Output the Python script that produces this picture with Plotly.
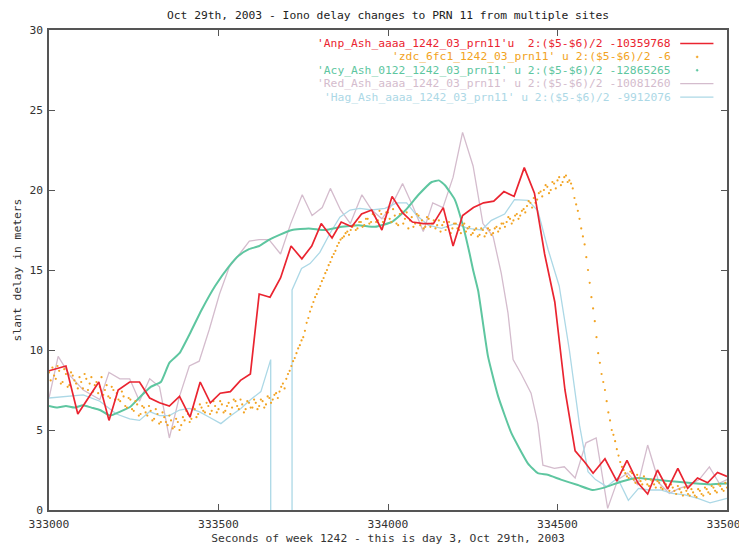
import plotly.graph_objects as go

# ---------------- data ----------------
anp_t = [333000, 333050, 333085, 333147, 333177, 333204, 333238, 333267, 333297, 333326,
         333355, 333385, 333416, 333446, 333476, 333505, 333535, 333565, 333594, 333620,
         333652, 333683, 333714, 333746, 333775, 333803, 333835, 333862, 333893, 333922,
         333952, 333982, 334012, 334042, 334072, 334104, 334134, 334163, 334192, 334220,
         334252, 334282, 334312, 334342, 334372, 334402, 334432, 334462, 334492, 334522,
         334552, 334580, 334605, 334640, 334675, 334705, 334737, 334766, 334795, 334825,
         334855, 334884, 334913, 334943, 334972, 335000]
anp_v = [8.7, 9.0, 6.0, 8.0, 5.6, 7.5, 8.0, 8.0, 7.0, 6.7,
         6.5, 7.1, 5.8, 8.0, 6.7, 7.3, 7.4, 8.1, 8.5, 13.5,
         13.3, 14.5, 16.5, 15.7, 16.5, 17.9, 17.0, 18.0, 17.7, 18.5,
         18.75, 17.5, 19.6, 18.6, 18.0, 17.9, 17.9, 18.9, 16.5, 18.4,
         18.9, 19.2, 19.3, 19.9, 19.6, 21.4, 19.8, 16.0, 13.0, 7.5,
         3.7, 3.0, 2.3, 3.2, 1.8, 3.1, 1.7, 1.0, 2.5, 1.3,
         2.6, 1.35, 2.0, 1.7, 2.35, 2.1]

# zdc samples read on a 10 s grid (t = ...0) and on the in-between grid (t = ...5)
zdc_t = list(range(333000, 335001, 10))
zdc_v = [8.6, 8.9, 8.2, 8.7, 8.0, 8.5, 7.8, 8.4, 7.9, 8.3,
         7.6, 8.2, 7.9, 7.4, 8.0, 7.7, 7.2, 7.8, 7.0, 7.5,
         7.3, 6.8, 7.1, 6.4, 6.9, 6.2, 6.6, 6.0, 6.4, 5.9,
         6.2, 5.7, 6.0, 5.5, 5.8, 5.3, 5.6, 5.2, 5.5, 5.3,
         5.6, 6.0, 5.7, 6.3, 6.0, 6.4, 6.1, 6.5, 6.2, 6.5,
         6.3, 6.6, 6.2, 6.7, 6.4, 6.8, 6.3, 6.6, 6.3, 6.7,
         6.4, 6.7, 6.5, 6.8, 6.6, 7.0, 6.9, 7.3, 7.4, 7.9,
         8.2, 8.7, 9.3, 9.8, 10.3, 10.8, 11.7, 12.4, 13.0, 13.5,
         14.0, 14.5, 15.0, 15.5, 16.0, 16.5, 16.9, 17.1, 17.4, 17.5,
         17.8, 17.6, 18.0, 17.8, 18.2, 18.0, 18.4, 18.1, 18.5, 18.2,
         18.6, 18.0, 18.4, 17.8, 18.7, 18.2, 17.6, 18.3, 17.9, 18.4,
         18.1, 17.7, 18.2, 17.9, 17.6, 18.1, 17.8, 17.5, 18.0, 17.6,
         17.9, 17.5, 17.8, 17.4, 17.7, 17.3, 17.6, 17.2, 17.5, 17.3,
         17.5, 17.3, 17.7, 17.6, 17.9, 18.0, 18.2, 18.1, 18.5, 18.4,
         18.8, 19.0, 19.2, 19.5, 19.4, 19.9, 20.0, 20.2, 20.0, 20.4,
         20.6, 20.3, 20.8, 20.5, 20.4, 19.5, 18.7, 17.6, 16.6, 15.0,
         13.3, 11.8, 9.8, 8.5, 7.5, 6.1, 5.0, 4.3, 3.4, 2.7,
         2.3, 2.0, 2.3, 1.7, 2.0, 1.6, 1.9, 1.5, 1.8, 1.4,
         1.7, 1.3, 1.6, 1.2, 1.4, 1.0, 1.3, 0.9, 1.2, 0.9,
         1.1, 0.8, 1.2, 0.9, 1.3, 1.0, 1.4, 1.1, 1.5, 1.2,
         1.4]
zdc_t2 = list(range(333005, 335000, 10))
zdc_v2 = [8.1, 8.4, 9.0, 7.9, 8.8, 7.7, 8.6, 8.1, 7.6, 8.0,
          8.5, 7.5, 8.3, 7.8, 7.3, 8.3, 7.5, 7.1, 7.7, 6.9,
          6.9, 7.4, 6.5, 7.0, 6.3, 6.8, 5.9, 6.5, 6.1, 6.5,
          5.6, 6.3, 5.4, 6.1, 5.5, 5.9, 5.1, 5.7, 5.0, 5.8,
          6.2, 5.5, 6.4, 5.8, 6.6, 6.2, 6.7, 6.0, 6.8, 6.1,
          6.8, 6.1, 6.5, 6.0, 6.9, 6.5, 6.9, 6.1, 6.8, 6.4,
          6.9, 6.3, 6.9, 6.4, 7.1, 6.7, 7.2, 7.0, 7.7, 7.6,
          8.5, 9.0, 9.5, 10.1, 10.6, 11.2, 12.0, 12.7, 13.3, 13.8,
          14.3, 14.8, 15.3, 15.8, 16.2, 16.7, 17.0, 17.3, 17.2, 17.7,
          17.5, 18.0, 17.7, 18.2, 17.9, 18.5, 18.0, 18.7, 18.0, 18.6,
          18.2, 18.8, 17.9, 18.5, 17.9, 18.6, 18.1, 17.7, 18.5, 17.8,
          17.6, 18.3, 17.7, 18.1, 17.8, 17.4, 18.0, 17.7, 17.3, 17.9,
          17.6, 17.3, 17.9, 17.6, 17.2, 17.5, 17.1, 17.6, 17.1, 17.6,
          17.2, 17.6, 17.4, 17.9, 17.7, 18.3, 17.9, 18.4, 18.2, 18.7,
          18.6, 19.3, 18.9, 19.2, 19.8, 19.6, 20.3, 19.8, 20.5, 20.1,
          20.8, 20.5, 20.9, 20.6, 20.1, 19.1, 18.2, 17.1, 15.8, 14.2,
          12.6, 10.8, 9.2, 8.0, 6.8, 5.6, 4.7, 3.8, 3.0, 2.5,
          2.1, 2.4, 1.9, 2.2, 1.8, 2.1, 1.6, 1.9, 1.6, 1.8,
          1.4, 1.7, 1.4, 1.6, 1.2, 1.5, 1.1, 1.4, 1.0, 1.3,
          0.9, 1.3, 1.0, 1.4, 1.1, 1.5, 1.2, 1.6, 1.3, 1.7]

acy_t = [333000, 333025, 333050, 333075, 333100, 333125, 333150, 333180, 333210, 333240,
         333270, 333300, 333330, 333355, 333385, 333415, 333450, 333490, 333530, 333560,
         333590, 333620, 333650, 333680, 333717, 333766, 333815, 333864, 333913, 333962,
         334011, 334050, 334090, 334129, 334150, 334168, 334197, 334222, 334241, 334251,
         334266, 334295, 334325, 334364, 334413, 334442, 334471, 334510, 334560, 334603,
         334638, 334687, 334736, 334785, 334853, 334902, 334951, 335000]
acy_v = [6.5, 6.4, 6.5, 6.4, 6.55, 6.4, 6.25, 5.9, 6.15, 6.45,
         7.1, 7.7, 8.0, 9.2, 9.8, 11.0, 12.5, 14.0, 15.2, 15.9,
         16.3, 16.5, 16.9, 17.2, 17.5, 17.6, 17.5, 17.7, 17.8, 17.7,
         18.0, 18.7, 19.7, 20.5, 20.6, 20.3, 19.4, 17.7, 16.0, 15.0,
         13.7, 9.6, 7.1, 4.8, 2.9, 2.3, 2.2, 1.9, 1.56, 1.25,
         1.4, 1.77, 2.0, 1.9, 1.77, 1.67, 1.6, 1.65]

red_t = [333000, 333027, 333062, 333101, 333150, 333177, 333209, 333238, 333267, 333297,
         333326, 333355, 333385, 333414, 333443, 333473, 333503, 333532, 333562, 333591,
         333620, 333649, 333683, 333713, 333747, 333776, 333806, 333830, 333860, 333889,
         333923, 333952, 333982, 334011, 334043, 334073, 334104, 334132, 334162, 334192,
         334220, 334251, 334280, 334310, 334334, 334354, 334369, 334393, 334422, 334442,
         334457, 334491, 334520, 334552, 334584, 334614, 334648, 334678, 334707, 334737,
         334766, 334800, 334830, 334859, 334889, 334918, 334948, 334977, 335000]
red_v = [7.0, 9.6, 8.4, 7.5, 6.9, 8.6, 8.2, 8.2, 6.8, 8.2,
         7.7, 4.5, 7.1, 9.0, 9.3, 11.3, 13.5, 15.2, 16.0, 16.8,
         16.9, 16.9, 16.0, 17.9, 19.7, 18.4, 18.9, 20.1, 18.75, 17.9,
         19.7, 18.75, 18.2, 19.06, 20.4, 19.0, 17.4, 19.2, 18.9, 20.8,
         23.6, 21.5, 17.9, 17.1, 14.8, 12.3, 9.4, 8.5, 7.3, 5.4,
         2.8, 2.6, 2.7, 2.0, 4.2, 4.5, 0.1, 1.9, 2.3, 1.56,
         4.06, 1.67, 1.04, 1.35, 1.56, 1.9, 2.7, 1.67, 1.9]

hag_t = [333000, 333052, 333101, 333150, 333199, 333238, 333267, 333297, 333326, 333355,
         333385, 333414, 333443, 333473, 333507, 333537, 333566, 333595, 333625, 333654,
         333685, 333717, 333745, 333770, 333799, 333829, 333858, 333888, 333917, 333952,
         333991, 334026, 334055, 334085, 334119, 334158, 334197, 334236, 334276, 334305,
         334344, 334373, 334413, 334442, 334472, 334505, 334535, 334565, 334590, 334612,
         334645, 334677, 334709, 334739, 334770, 334804, 334838, 334876, 334914, 334950,
         335000]
hag_v = [7.0, 7.1, 7.2, 6.8, 6.0, 5.7, 5.6, 6.15, 5.9, 5.9,
         6.25, 6.35, 6.15, 5.8, 5.4, 5.9, 6.35, 6.9, 7.4, 9.4,
         -10000.0, 13.75, 15.1, 15.4, 16.1, 17.3, 18.3, 18.75, 18.85, 18.75,
         18.85, 19.2, 19.2, 18.4, 17.8, 17.6, 17.9, 17.6, 17.5, 18.1,
         18.5, 19.4, 19.35, 18.7, 16.3, 14.0, 10.0, 5.3, 2.4, 1.9,
         1.46, 2.0, 0.6, 1.35, 1.25, 1.25, 1.04, 0.94, 0.73, 0.45,
         0.73]

legend_labels = [
    "'Anp_Ash_aaaa_1242_03_prn11'u\u00a0 2:($5-$6)/2 -10359768",
    "'zdc_6fc1_1242_03_prn11' u 2:($5-$6)/2 -6",
    "'Acy_Ash_0122_1242_03_prn11' u 2:($5-$6)/2 -12865265",
    "'Red_Ash_aaaa_1242_03_prn11' u 2:($5-$6)/2 -10081260",
    "'Hag_Ash_aaaa_1242_03_prn11' u 2:($5-$6)/2 -9912076",
]
x_ticks = [333000, 333500, 334000, 334500, 335000]
y_ticks = [0, 5, 10, 15, 20, 25, 30]

title_text = "Oct 29th, 2003 - Iono delay changes to PRN 11 from multiple sites"
x_title = "Seconds of week 1242 - this is day 3, Oct 29th, 2003"
y_title = "slant delay in meters"

# ---------------- style ----------------
C_RED = "#ea2430"
C_ORG = "#f2a322"
C_TEAL = "#5ec6a0"
C_PINK = "#d4bccd"
C_BLUE = "#acd8e6"
FONT = "DejaVu Sans Mono"
FS = 11.3

fig = go.Figure()
fig.add_trace(go.Scatter(x=red_t, y=red_v, mode="lines", line=dict(color=C_PINK, width=1.3), name=legend_labels[3]))
fig.add_trace(go.Scatter(x=hag_t, y=hag_v, mode="lines", line=dict(color=C_BLUE, width=1.3), name=legend_labels[4]))
fig.add_trace(go.Scatter(x=acy_t, y=acy_v, mode="lines", line=dict(color=C_TEAL, width=2, shape="spline", smoothing=0.4), name=legend_labels[2]))
fig.add_trace(go.Scatter(x=zdc_t + zdc_t2, y=zdc_v + zdc_v2, mode="markers",
                         marker=dict(color=C_ORG, size=2.2, line=dict(width=0)), name=legend_labels[1]))
fig.add_trace(go.Scatter(x=anp_t, y=anp_v, mode="lines", line=dict(color=C_RED, width=1.7), name=legend_labels[0]))

# legend drawn gnuplot-style (text right-aligned, sample on the right)
colors = [C_RED, C_ORG, C_TEAL, C_PINK, C_BLUE]
kinds = ["line", "dot", "dot", "line", "line"]
for i, (lab, col, kind) in enumerate(zip(legend_labels, colors, kinds)):
    py = 43.5 + 13.4 * i
    yp = (510 - py) / 480
    fig.add_annotation(xref="paper", yref="paper", x=0.920, y=yp, text=lab, showarrow=False,
                       xanchor="right", yanchor="middle", font=dict(family=FONT, size=FS, color=col))
    if kind == "line":
        fig.add_shape(type="line", xref="paper", yref="paper", x0=0.931, x1=0.980, y0=yp, y1=yp,
                      line=dict(color=col, width=1.6 if i == 0 else 1.3))
    else:
        fig.add_shape(type="circle", xref="paper", yref="paper", x0=0.9545, x1=0.9575,
                      y0=yp - 0.002, y1=yp + 0.002, line=dict(color=col, width=0.5), fillcolor=col)

axis_common = dict(showline=True, linecolor="#555555", linewidth=1.5, mirror="ticks",
                   ticks="inside", ticklen=6, tickcolor="#555555", tickwidth=1,
                   showgrid=False, zeroline=False,
                   tickfont=dict(family=FONT, size=FS, color="#333333"))
fig.update_xaxes(range=[333000, 335000], tickvals=x_ticks, ticktext=[str(v) for v in x_ticks],
                 ticklabeloverflow="allow", ticklabelstandoff=3,
                 title=dict(text=x_title, font=dict(family=FONT, size=FS, color="#333333"), standoff=4),
                 **axis_common)
fig.update_yaxes(range=[0, 30], tickvals=y_ticks, ticktext=[str(v) for v in y_ticks],
                 ticklabelstandoff=2,
                 title=dict(text=y_title, font=dict(family=FONT, size=FS, color="#333333"), standoff=5),
                 **axis_common)

fig.update_layout(
    width=739, height=545,
    margin=dict(l=49, r=12, t=30, b=35, autoexpand=False),
    paper_bgcolor="white", plot_bgcolor="white",
    showlegend=False,
    title=dict(text=title_text, x=(49 + 339) / 739, xanchor="center", y=1 - 15 / 545, yanchor="middle",
               font=dict(family=FONT, size=FS, color="#222222")),
)

fig.write_html("out.html")
